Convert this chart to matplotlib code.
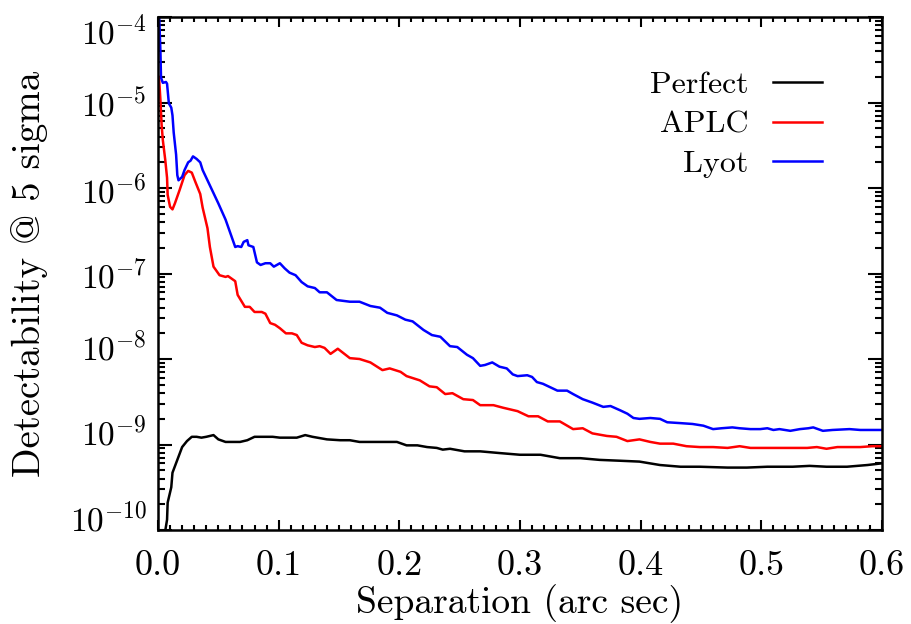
import numpy as np
import matplotlib
matplotlib.use("Agg")
import matplotlib.pyplot as plt
import matplotlib.ticker as mticker
import matplotlib.transforms as mtrans

plt.rcParams["font.family"] = "cmr10"
plt.rcParams["mathtext.fontset"] = "cm"
plt.rcParams["axes.formatter.use_mathtext"] = True

# Daten (log10 der Detektierbarkeit)
sep_lyot = [0.000, 0.001, 0.002, 0.0025, 0.004, 0.0066, 0.0075, 0.009, 0.011, 0.012, 0.013, 0.015,
            0.016, 0.017, 0.020, 0.022, 0.025, 0.027, 0.029, 0.032, 0.035, 0.037, 0.041, 0.046,
            0.050, 0.056, 0.060, 0.064, 0.066, 0.069, 0.071, 0.074, 0.075, 0.079, 0.082, 0.085,
            0.089, 0.093, 0.096, 0.101, 0.105, 0.109, 0.114, 0.119, 0.124, 0.130, 0.134, 0.140,
            0.148, 0.159, 0.167, 0.176, 0.184, 0.190, 0.198, 0.205, 0.211, 0.220, 0.227, 0.234,
            0.242, 0.248, 0.256, 0.261, 0.267, 0.271, 0.277, 0.283, 0.289, 0.294, 0.298, 0.306,
            0.310, 0.314, 0.319, 0.325, 0.331, 0.339, 0.344, 0.352, 0.360, 0.369, 0.375, 0.383,
            0.389, 0.394, 0.399, 0.408, 0.416, 0.422, 0.433, 0.443, 0.452, 0.460, 0.467, 0.476,
            0.482, 0.491, 0.499, 0.505, 0.510, 0.515, 0.524, 0.532, 0.539, 0.543, 0.551, 0.559,
            0.573, 0.582, 0.592, 0.600]
log_lyot = [-3.90, -4.00, -4.40, -4.71, -4.77, -4.76, -4.78, -5.01, -5.06, -5.15, -5.35, -5.61,
            -5.85, -5.91, -5.87, -5.79, -5.70, -5.68, -5.63, -5.66, -5.70, -5.79, -5.91, -6.06,
            -6.18, -6.37, -6.53, -6.69, -6.68, -6.69, -6.63, -6.61, -6.67, -6.69, -6.87, -6.90,
            -6.88, -6.88, -6.92, -6.88, -6.94, -6.99, -7.02, -7.10, -7.15, -7.17, -7.22, -7.22,
            -7.31, -7.33, -7.33, -7.38, -7.40, -7.46, -7.49, -7.54, -7.56, -7.66, -7.72, -7.74,
            -7.85, -7.86, -7.95, -7.99, -8.08, -8.07, -8.04, -8.09, -8.11, -8.18, -8.20, -8.19,
            -8.21, -8.27, -8.29, -8.33, -8.37, -8.37, -8.41, -8.47, -8.51, -8.56, -8.55, -8.60,
            -8.64, -8.69, -8.70, -8.69, -8.70, -8.74, -8.75, -8.76, -8.78, -8.82, -8.81, -8.80,
            -8.81, -8.82, -8.82, -8.81, -8.83, -8.82, -8.84, -8.82, -8.81, -8.80, -8.84, -8.83,
            -8.82, -8.83, -8.83, -8.83]

sep_aplc = [0.0005, 0.001, 0.002, 0.003, 0.004, 0.006, 0.0075, 0.008, 0.010, 0.012, 0.014, 0.018,
            0.022, 0.025, 0.028, 0.031, 0.035, 0.037, 0.041, 0.043, 0.046, 0.051, 0.056, 0.058,
            0.061, 0.064, 0.066, 0.072, 0.076, 0.080, 0.086, 0.089, 0.093, 0.097, 0.101, 0.106,
            0.111, 0.115, 0.119, 0.124, 0.130, 0.134, 0.138, 0.143, 0.149, 0.159, 0.167, 0.176,
            0.186, 0.192, 0.201, 0.206, 0.217, 0.225, 0.231, 0.238, 0.244, 0.253, 0.261, 0.267,
            0.278, 0.286, 0.298, 0.307, 0.315, 0.323, 0.333, 0.344, 0.352, 0.360, 0.372, 0.380,
            0.389, 0.399, 0.408, 0.416, 0.427, 0.438, 0.449, 0.460, 0.472, 0.482, 0.491, 0.505,
            0.515, 0.526, 0.538, 0.546, 0.554, 0.563, 0.573, 0.582, 0.592, 0.600]
log_aplc = [-4.70, -4.74, -4.97, -5.26, -5.44, -5.67, -5.88, -6.08, -6.22, -6.25, -6.18, -6.02,
            -5.85, -5.80, -5.82, -5.93, -6.07, -6.23, -6.47, -6.69, -6.92, -7.02, -7.04, -7.03,
            -7.06, -7.09, -7.25, -7.39, -7.39, -7.45, -7.45, -7.47, -7.58, -7.60, -7.64, -7.70,
            -7.70, -7.72, -7.81, -7.84, -7.86, -7.85, -7.87, -7.94, -7.88, -7.99, -8.00, -8.04,
            -8.13, -8.11, -8.15, -8.20, -8.25, -8.32, -8.33, -8.41, -8.40, -8.47, -8.48, -8.54,
            -8.54, -8.57, -8.61, -8.67, -8.67, -8.73, -8.73, -8.82, -8.81, -8.87, -8.90, -8.91,
            -8.96, -8.94, -8.97, -8.99, -8.99, -9.02, -9.03, -9.03, -9.04, -9.02, -9.04, -9.04,
            -9.04, -9.04, -9.04, -9.03, -9.05, -9.03, -9.03, -9.03, -9.02, -9.02]

sep_perfect = [0.005, 0.006, 0.0075, 0.008, 0.011, 0.012, 0.016, 0.020, 0.024, 0.028, 0.032, 0.036,
               0.040, 0.046, 0.050, 0.056, 0.061, 0.068, 0.074, 0.080, 0.089, 0.095, 0.101, 0.107,
               0.115, 0.122, 0.128, 0.140, 0.151, 0.159, 0.167, 0.178, 0.190, 0.198, 0.206, 0.215,
               0.223, 0.231, 0.236, 0.242, 0.254, 0.267, 0.283, 0.300, 0.317, 0.333, 0.350, 0.366,
               0.383, 0.399, 0.416, 0.433, 0.449, 0.472, 0.488, 0.505, 0.526, 0.540, 0.554, 0.571,
               0.588, 0.600]
log_perfect = [-10.20, -10.01, -9.88, -9.68, -9.50, -9.33, -9.18, -9.03, -8.96, -8.91, -8.91, -8.92,
               -8.91, -8.89, -8.94, -8.97, -8.97, -8.97, -8.95, -8.91, -8.91, -8.91, -8.92, -8.92,
               -8.92, -8.89, -8.91, -8.94, -8.95, -8.95, -8.97, -8.97, -8.97, -8.97, -9.01, -9.01,
               -9.03, -9.04, -9.06, -9.05, -9.08, -9.08, -9.10, -9.12, -9.12, -9.16, -9.16, -9.18,
               -9.19, -9.20, -9.24, -9.26, -9.26, -9.27, -9.27, -9.26, -9.26, -9.25, -9.26, -9.26,
               -9.24, -9.22]

fig = plt.figure(figsize=(9.11, 6.24), dpi=100)
ax = fig.add_axes([158 / 911, 1 - 530 / 624, 724 / 911, 513 / 624])

ax.plot(sep_perfect, 10.0 ** np.array(log_perfect), color="black", lw=1.8, label="Perfect")
ax.plot(sep_aplc, 10.0 ** np.array(log_aplc), color="red", lw=1.8, label="APLC")
ax.plot(sep_lyot, 10.0 ** np.array(log_lyot), color="blue", lw=1.8, label="Lyot")

ax.set_yscale("log")
ax.set_xlim(0, 0.6)
ax.set_ylim(1e-10, 1e-4)

ax.xaxis.set_major_locator(mticker.MultipleLocator(0.1))
ax.xaxis.set_minor_locator(mticker.MultipleLocator(0.01))
ax.xaxis.set_major_formatter(mticker.FormatStrFormatter("%.1f"))
ax.yaxis.set_major_locator(mticker.LogLocator(base=10, numticks=20))
ax.yaxis.set_minor_locator(mticker.LogLocator(base=10, subs=np.arange(2, 10), numticks=20))
ax.yaxis.set_minor_formatter(mticker.NullFormatter())

for s in ax.spines.values():
    s.set_linewidth(1.8)
ax.tick_params(axis="both", which="both", direction="in", top=True, right=True, width=1.5)
ax.tick_params(axis="y", which="major", length=10, pad=8, labelsize=24)
ax.tick_params(axis="y", which="minor", length=5)
ax.tick_params(axis="x", which="major", length=7, pad=15, labelsize=26)
ax.tick_params(axis="x", which="minor", length=3.6)

ax.set_xlabel("Separation (arc sec)", fontsize=27)
ax.set_ylabel("Detectability @ 5 sigma", fontsize=28)
ax.xaxis.set_label_coords(0.5, -0.105)
ax.yaxis.set_label_coords(-0.152, 0.5)

ax.legend(loc="upper right", bbox_to_anchor=(822 / 911, 1 - 71 / 624),
          bbox_transform=fig.transFigure, frameon=False, markerfirst=False,
          fontsize=23, handlelength=1.53, handletextpad=0.78, labelspacing=0.35,
          borderpad=0, borderaxespad=0)

# IDL-artige Verschiebung der aeusseren y-Beschriftungen
fig.canvas.draw()
for t in ax.yaxis.get_major_ticks():
    loc = t.get_loc()
    if np.isclose(loc, 1e-4):
        t.label1.set_transform(t.label1.get_transform()
                               + mtrans.ScaledTranslation(0, -12 / 100, fig.dpi_scale_trans))
    elif np.isclose(loc, 1e-10):
        t.label1.set_transform(t.label1.get_transform()
                               + mtrans.ScaledTranslation(0, 14 / 100, fig.dpi_scale_trans))

fig.savefig("out.png", dpi=100)
